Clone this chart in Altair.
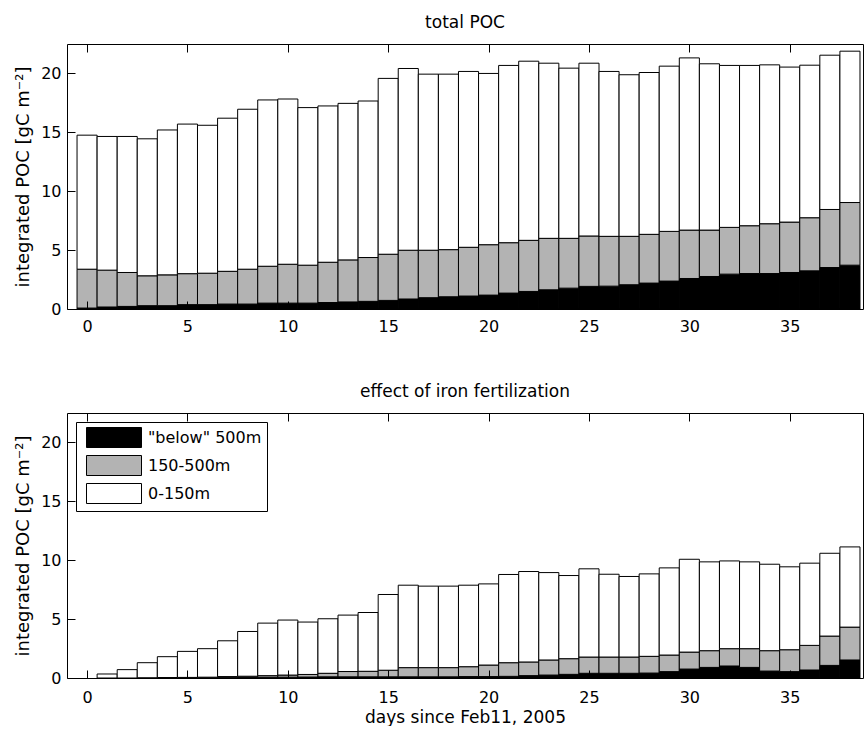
import altair as alt
import pandas as pd

# ---------------- data ----------------
days = list(range(39))

# top panel "total POC": cumulative tops of each layer
total_deep = [0.08, 0.17, 0.22, 0.28, 0.28, 0.37, 0.37, 0.42, 0.42, 0.50, 0.50, 0.50, 0.55, 0.60,
              0.65, 0.73, 0.85, 0.96, 1.04, 1.10, 1.18, 1.35, 1.49, 1.63, 1.77, 1.92, 1.94, 2.06,
              2.20, 2.37, 2.59, 2.76, 2.96, 3.01, 3.01, 3.10, 3.24, 3.52, 3.72]
total_mid = [3.38, 3.30, 3.10, 2.82, 2.90, 3.00, 3.04, 3.20, 3.38, 3.63, 3.80, 3.72, 3.97, 4.17,
             4.37, 4.65, 4.99, 4.99, 5.04, 5.24, 5.46, 5.63, 5.83, 6.00, 6.00, 6.20, 6.17, 6.17,
             6.34, 6.59, 6.70, 6.70, 6.93, 7.07, 7.24, 7.38, 7.75, 8.45, 9.04]
total_all = [14.76, 14.65, 14.65, 14.45, 15.20, 15.70, 15.60, 16.20, 16.96, 17.75, 17.83, 17.10,
             17.24, 17.46, 17.66, 19.58, 20.42, 19.94, 19.94, 20.17, 20.00, 20.68, 21.04, 20.87,
             20.45, 20.87, 20.17, 19.89, 20.08, 20.62, 21.32, 20.82, 20.68, 20.68, 20.73, 20.54,
             20.70, 21.55, 21.89]

# bottom panel "effect of iron fertilization": cumulative tops of each layer
fert_deep = [0, 0, 0, 0, 0.01, 0.01, 0.02, 0.03, 0.05, 0.06, 0.07, 0.08, 0.10, 0.10, 0.10, 0.10,
             0.10, 0.10, 0.10, 0.12, 0.12, 0.14, 0.20, 0.25, 0.31, 0.40, 0.40, 0.40, 0.42, 0.54,
             0.76, 0.90, 1.02, 0.90, 0.59, 0.54, 0.68, 1.07, 1.53]
fert_mid = [0, 0, 0, 0.02, 0.04, 0.05, 0.07, 0.12, 0.15, 0.20, 0.25, 0.30, 0.40, 0.55, 0.57, 0.66,
            0.88, 0.88, 0.88, 0.96, 1.10, 1.30, 1.36, 1.53, 1.64, 1.78, 1.78, 1.78, 1.84, 1.95,
            2.20, 2.32, 2.49, 2.49, 2.32, 2.40, 2.77, 3.56, 4.32]
fert_all = [0, 0.34, 0.71, 1.30, 1.81, 2.26, 2.49, 3.16, 3.95, 4.66, 4.92, 4.75, 5.03, 5.34, 5.56,
            7.09, 7.88, 7.80, 7.80, 7.88, 7.99, 8.79, 9.04, 8.95, 8.70, 9.27, 8.81, 8.62, 8.84,
            9.35, 10.08, 9.86, 9.94, 9.86, 9.66, 9.44, 9.75, 10.59, 11.13]

layers = ['"below" 500m', '150-500m', '0-150m']
layer_colors = ['black', '#b3b3b3', 'white']
x_ticks = [0, 5, 10, 15, 20, 25, 30, 35]
y_ticks = [0, 5, 10, 15, 20]

FONT = "DejaVu Sans"


def long_table(deep, mid, tot):
    rows = []
    for d, b, g, t in zip(days, deep, mid, tot):
        for name, lo, hi in ((layers[0], 0, b), (layers[1], b, g), (layers[2], g, t)):
            if hi - lo > 0:
                rows.append(dict(day=d, layer=name, lo=lo, hi=hi))
    return pd.DataFrame(rows)


xscale = alt.Scale(domain=[-1, 38.65], nice=False, zero=False)
yscale = alt.Scale(domain=[0, 22.5], nice=False, zero=False)


def panel(df, title, with_legend, x_title, label_pad):
    bottom_axis = alt.Axis(
        orient="bottom", values=x_ticks, offset=-8, tickSize=8, domain=False, grid=False,
        labelPadding=label_pad, labelFontSize=16, labelFont=FONT, labelColor="black",
        tickColor="black", zindex=1, labelFlush=False,
        title=x_title if x_title else None,
        titleFontSize=17, titleFont=FONT, titleFontWeight="normal", titleColor="black",
        titlePadding=4,
    )
    left_axis = alt.Axis(
        orient="left", values=y_ticks, offset=-8, tickSize=8, domain=False, grid=False,
        labelPadding=6, labelFontSize=16, labelFont=FONT, labelColor="black",
        tickColor="black", zindex=1,
        title="integrated POC [gC m⁻²]", titleFontSize=18, titleFont=FONT,
        titleFontWeight="normal", titleColor="black", titlePadding=8,
    )
    if with_legend:
        legend = alt.Legend(
            title=None, orient="top-left", offset=9, padding=5,
            fillColor="white", strokeColor="black",
            symbolType="M-2.75,-1H2.75V1H-2.75Z", symbolSize=400,
            symbolStrokeColor="black", symbolStrokeWidth=1, symbolOpacity=1,
            symbolOffset=22.5, labelOffset=23.5, rowPadding=3,
            labelFontSize=16, labelFont=FONT, labelColor="black",
        )
    else:
        legend = None

    bars = alt.Chart(df).transform_calculate(
        x0="datum.day - 0.5", x1="datum.day + 0.5"
    ).mark_bar(stroke="black", strokeWidth=1).encode(
        x=alt.X("x0:Q", scale=xscale, axis=bottom_axis),
        x2="x1:Q",
        y=alt.Y("lo:Q", scale=yscale, axis=left_axis),
        y2="hi:Q",
        fill=alt.Fill("layer:N", scale=alt.Scale(domain=layers, range=layer_colors),
                      legend=legend, sort=layers),
    )

    top_axis = alt.Axis(orient="top", values=x_ticks, offset=-8, tickSize=8, domain=False,
                        grid=False, labels=False, title=None, tickColor="black", zindex=1)
    ticks = alt.Chart(df).mark_point(opacity=0).encode(
        x=alt.X("day:Q", scale=xscale, axis=top_axis),
        y=alt.Y("hi:Q", scale=yscale, axis=None),
    )

    return alt.layer(bars, ticks).resolve_axis(x="independent", y="independent").properties(
        width=796, height=265,
        title=alt.TitleParams(title, fontSize=17, font=FONT, fontWeight="normal",
                              color="black", anchor="middle", frame="group", offset=12),
    )


top = panel(long_table(total_deep, total_mid, total_all), "total POC", False, None, 9)
bottom = panel(long_table(fert_deep, fert_mid, fert_all), "effect of iron fertilization",
               True, "days since Feb11, 2005", 11)

chart = alt.vconcat(top, bottom, spacing=47).resolve_legend(fill="independent").properties(
    padding={"left": 14, "top": 13, "right": 0, "bottom": 0},
    background="white",
).configure_view(stroke="black", strokeWidth=1)

chart.save("out.html", embed_options={"renderer": "svg", "actions": False})
